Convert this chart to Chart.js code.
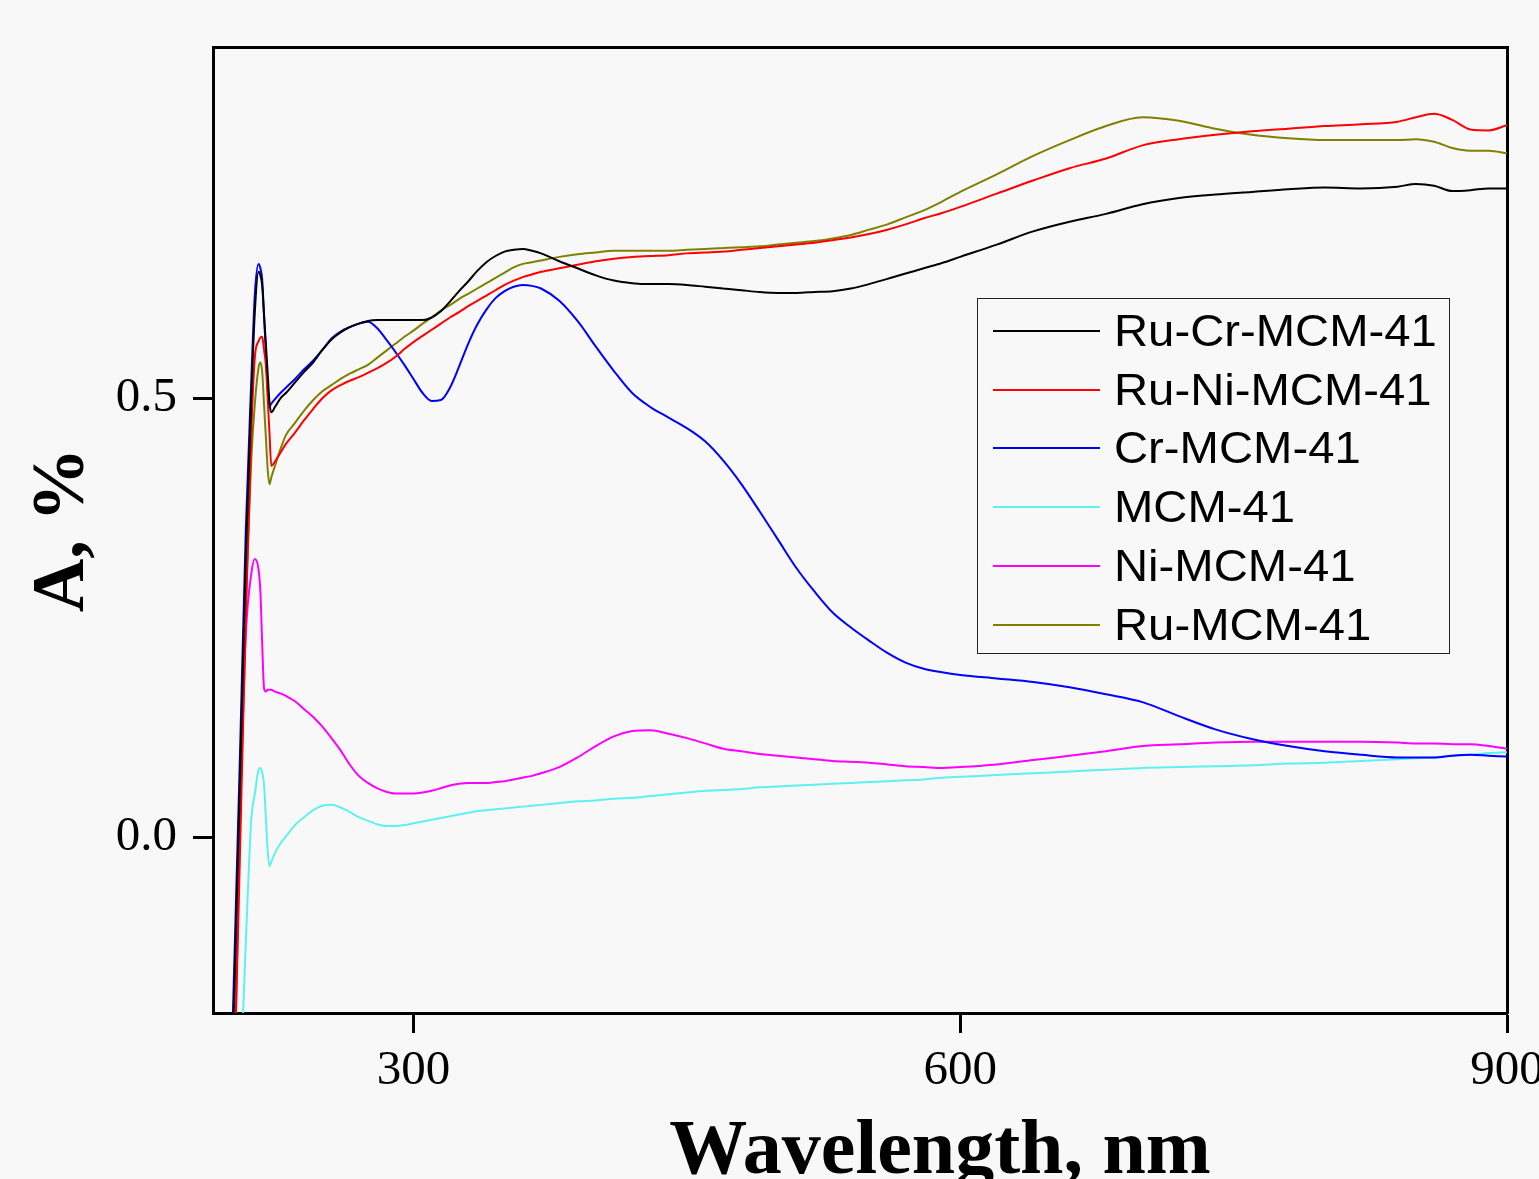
<!DOCTYPE html>
<html><head><meta charset="utf-8">
<script src="https://cdn.jsdelivr.net/npm/chart.js@4.4.1/dist/chart.umd.min.js"></script>
<style>
html,body{margin:0;padding:0;background:#f8f8f8;}
#wrap{position:relative;width:1539px;height:1179px;overflow:hidden;}
#legend{position:absolute;left:977px;top:298px;width:473px;height:356px;border:1.5px solid #222;box-sizing:border-box;font-family:"Liberation Sans",Arial,sans-serif;font-size:45px;color:#000;}
.sw{position:absolute;left:15px;width:107px;height:0;border-top:2px solid;}
.lab{position:absolute;left:136px;line-height:45px;white-space:nowrap;transform:scaleX(1.05);transform-origin:0 50%;}
</style></head>
<body>
<div id="wrap"><canvas id="c" width="1539" height="1179"></canvas><div id="legend"></div></div>
<script>
const wavelength = [198,202,205,208,211,213,215,216,217,218,219,220,221,222,224,227,
230,235,240,245,250,255,260,265,270,275,280,285,290,295,300,305,310,315,320,325,330,335,340,345,350,355,360,365,370,
380,390,400,410,420,430,440,450,460,470,480,490,500,510,520,530,540,550,560,570,580,590,600,
620,640,660,680,700,720,740,760,780,800,820,840,850,860,870,880,890,900];

const ruCrMCM = [-0.45,-0.15,0.08,0.32,0.50,0.60,0.644,0.640,0.628,0.595,0.562,0.528,0.495,0.484,0.490,0.500,
0.506,0.518,0.530,0.541,0.555,0.567,0.575,0.581,0.585,0.588,0.589,0.589,0.589,0.589,0.589,0.589,0.592,0.599,0.610,0.622,0.633,0.645,0.655,0.662,0.667,0.669,0.670,0.668,0.665,
0.656,0.648,0.640,0.634,0.631,0.630,0.630,0.629,0.627,0.625,0.623,0.621,0.620,0.620,0.621,0.622,0.625,0.630,0.636,0.642,0.648,0.654,0.661,
0.675,0.690,0.701,0.710,0.721,0.728,0.732,0.735,0.738,0.740,0.739,0.741,0.744,0.742,0.736,0.737,0.739,0.739];

const ruNiMCM = [-0.55,-0.25,0.0,0.25,0.46,0.548,0.565,0.569,0.570,0.555,0.538,0.50,0.46,0.423,0.428,0.438,
0.448,0.461,0.475,0.488,0.500,0.509,0.515,0.520,0.524,0.529,0.534,0.540,0.547,0.556,0.564,0.571,0.578,0.585,0.592,0.598,0.605,0.611,0.617,0.623,0.629,0.634,0.638,0.641,0.644,
0.648,0.652,0.656,0.659,0.661,0.662,0.663,0.665,0.666,0.667,0.669,0.671,0.673,0.675,0.677,0.680,0.683,0.687,0.692,0.698,0.705,0.711,0.718,
0.733,0.748,0.762,0.773,0.788,0.795,0.800,0.804,0.807,0.810,0.812,0.815,0.820,0.824,0.817,0.806,0.805,0.811];

const crMCM = [-0.42,-0.12,0.11,0.35,0.52,0.62,0.653,0.648,0.635,0.594,0.553,0.512,0.491,0.494,0.499,0.506,
0.512,0.522,0.533,0.543,0.555,0.568,0.576,0.581,0.585,0.587,0.580,0.567,0.553,0.538,0.522,0.506,0.497,0.498,0.512,0.536,0.562,0.584,0.601,0.614,0.622,0.627,0.629,0.628,0.625,
0.611,0.588,0.559,0.531,0.506,0.490,0.478,0.466,0.451,0.429,0.402,0.371,0.339,0.307,0.280,0.256,0.239,0.224,0.210,0.199,0.192,0.188,0.185,
0.181,0.177,0.171,0.163,0.154,0.138,0.123,0.112,0.104,0.098,0.094,0.091,0.091,0.091,0.093,0.094,0.093,0.092];

const MCM = [-0.6,-0.45,-0.28,-0.12,0.02,0.05,0.077,0.079,0.074,0.06,0.022,-0.015,-0.033,-0.028,-0.018,-0.007,
0.001,0.014,0.023,0.031,0.036,0.037,0.034,0.029,0.023,0.019,0.015,0.013,0.013,0.014,0.016,0.018,0.020,0.022,0.024,0.026,0.028,0.030,0.031,0.032,0.033,0.034,0.035,0.036,0.037,
0.039,0.041,0.042,0.044,0.045,0.047,0.049,0.051,0.053,0.054,0.055,0.057,0.058,0.059,0.060,0.061,0.062,0.063,0.064,0.065,0.066,0.068,0.069,
0.071,0.073,0.075,0.077,0.079,0.080,0.081,0.082,0.084,0.085,0.087,0.089,0.090,0.091,0.093,0.094,0.096,0.097];

const niMCM = [-0.55,-0.25,0.03,0.23,0.30,0.317,0.305,0.28,0.22,0.17,0.166,0.168,0.168,0.168,0.166,0.164,
0.161,0.155,0.146,0.137,0.126,0.113,0.099,0.083,0.070,0.062,0.056,0.052,0.050,0.050,0.050,0.051,0.053,0.056,0.059,0.061,0.062,0.062,0.062,0.063,0.064,0.066,0.068,0.070,0.073,
0.080,0.091,0.104,0.115,0.121,0.122,0.118,0.113,0.107,0.101,0.098,0.095,0.093,0.091,0.089,0.087,0.086,0.085,0.083,0.081,0.080,0.079,0.080,
0.083,0.088,0.093,0.098,0.104,0.106,0.108,0.109,0.109,0.109,0.109,0.108,0.107,0.107,0.106,0.106,0.104,0.101];

const ruMCM = [-0.5,-0.18,0.05,0.27,0.43,0.495,0.535,0.541,0.530,0.493,0.456,0.419,0.402,0.410,0.423,0.442,
0.458,0.472,0.486,0.498,0.508,0.515,0.522,0.528,0.533,0.538,0.546,0.554,0.562,0.570,0.577,0.585,0.592,0.600,0.606,0.613,0.619,0.625,0.631,0.637,0.643,0.649,0.653,0.655,0.657,
0.661,0.664,0.666,0.668,0.668,0.668,0.668,0.669,0.670,0.671,0.672,0.673,0.675,0.677,0.679,0.682,0.686,0.692,0.698,0.706,0.714,0.724,0.735,
0.755,0.776,0.794,0.810,0.820,0.816,0.807,0.800,0.796,0.794,0.794,0.794,0.795,0.792,0.785,0.782,0.782,0.779];

const seriesNames = ['Ru-Cr-MCM-41','Ru-Ni-MCM-41','Cr-MCM-41','MCM-41','Ni-MCM-41','Ru-MCM-41'];
const seriesValues = [ruCrMCM, ruNiMCM, crMCM, MCM, niMCM, ruMCM];
const xTickValues = [300, 600, 900];
const yTickValues = [0.0, 0.5];
const xTitleText = 'Wavelength, nm';
const yTitleText = 'A, %';

const colors = ['#000000','#ff0000','#0000ff','#5ff0f0','#ff00ff','#808000'];

const datasets = seriesNames.map((name, k) => ({
  label: name,
  data: wavelength.map((w, i) => ({x: w, y: seriesValues[k][i]})),
  borderColor: colors[k],
  backgroundColor: colors[k],
  borderWidth: 2,
  pointRadius: 0,
  cubicInterpolationMode: 'monotone',
  fill: false
}));

const serif = 'Liberation Serif, Times New Roman, serif';

// x-axis title drawn below the axis (offset to the right, as in the original figure)
const xTitlePlugin = {
  id: 'xTitle',
  afterDraw(chart) {
    const ctx = chart.ctx;
    ctx.save();
    ctx.font = 'bold 78px "Liberation Serif", "Times New Roman", serif';
    ctx.fillStyle = '#000';
    ctx.textAlign = 'center';
    ctx.textBaseline = 'alphabetic';
    ctx.fillText(xTitleText, 940, 1173);
    ctx.restore();
  }
};

const chart = new Chart(document.getElementById('c'), {
  type: 'line',
  data: {datasets},
  plugins: [xTitlePlugin],
  options: {
    responsive: false,
    animation: false,
    devicePixelRatio: 1,
    layout: {padding: {left: 0, top: 47, right: 32, bottom: 0}, autoPadding: false},
    plugins: {legend: {display: false}, tooltip: {enabled: false}},
    scales: {
      x: {
        type: 'linear', position: 'bottom', min: 190, max: 900,
        afterFit: s => { s.height = 166; s.paddingLeft = 0; s.paddingRight = 0; },
        afterBuildTicks: s => { s.ticks = xTickValues.map(v => ({value: v})); },
        ticks: {font: {family: serif, size: 49}, color: '#000', padding: 9, maxRotation: 0, autoSkip: false, callback: v => String(v)},
        grid: {drawOnChartArea: false, drawTicks: true, tickLength: 20, tickWidth: 3, tickColor: '#000'},
        border: {display: true, width: 3, color: '#000'},
        title: {display: false}
      },
      y: {
        type: 'linear', position: 'left', min: -0.2, max: 0.9,
        afterFit: s => { s.width = 213; s.paddingTop = 0; s.paddingBottom = 0; },
        afterBuildTicks: s => { s.ticks = yTickValues.map(v => ({value: v})); },
        ticks: {font: {family: serif, size: 49}, color: '#000', padding: 16, callback: v => Number(v).toFixed(1)},
        grid: {drawOnChartArea: false, drawTicks: true, tickLength: 20, tickWidth: 3, tickColor: '#000'},
        border: {display: true, width: 3, color: '#000'},
        title: {display: true, text: yTitleText, color: '#000', padding: {top: 19, bottom: 0},
                font: {family: serif, size: 74, weight: 'bold'}}
      },
      x2: {
        type: 'linear', position: 'top', min: 190, max: 900,
        afterFit: s => { s.height = 0; s.paddingLeft = 0; s.paddingRight = 0; },
        ticks: {display: false},
        grid: {drawOnChartArea: false, drawTicks: false},
        border: {display: true, width: 3, color: '#000'}
      },
      y2: {
        type: 'linear', position: 'right', min: -0.2, max: 0.9,
        afterFit: s => { s.width = 0; s.paddingTop = 0; s.paddingBottom = 0; },
        ticks: {display: false},
        grid: {drawOnChartArea: false, drawTicks: false},
        border: {display: true, width: 3, color: '#000'}
      }
    }
  }
});

// HTML legend built from the chart's datasets
const leg = document.getElementById('legend');
chart.data.datasets.forEach((ds, i) => {
  const lineY = 32 + i * 58.7;
  const sw = document.createElement('div');
  sw.className = 'sw';
  sw.style.top = (lineY - 1) + 'px';
  sw.style.borderTopColor = ds.borderColor;
  leg.appendChild(sw);
  const lab = document.createElement('div');
  lab.className = 'lab';
  lab.style.top = (lineY - 23) + 'px';
  lab.textContent = ds.label;
  leg.appendChild(lab);
});
</script>
</body></html>
